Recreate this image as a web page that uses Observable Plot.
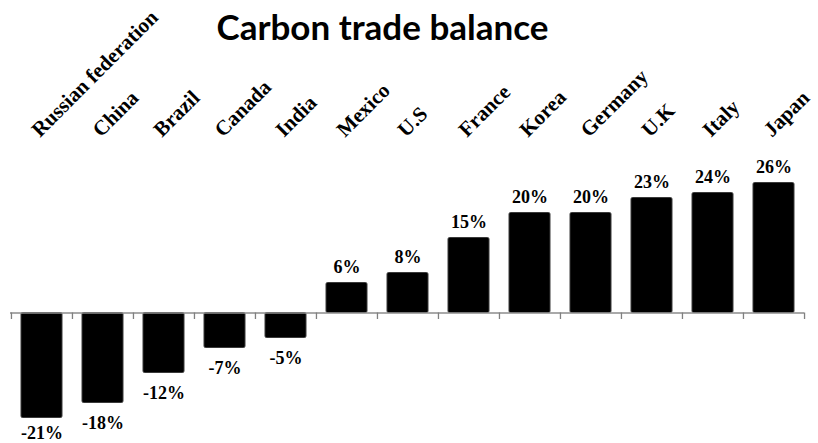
<!DOCTYPE html>
<html>
<head>
<meta charset="utf-8">
<script src="https://cdn.jsdelivr.net/npm/d3@7"></script>
<script src="https://cdn.jsdelivr.net/npm/@observablehq/plot@0.6"></script>
<style>
  html, body { margin: 0; padding: 0; background: #fff; }
  #wrap { position: relative; width: 818px; height: 443px; }
  #title { position: absolute; top: 5px; left: 0; width: 765px; text-align: center;
           font-family: Lato, "Open Sans", sans-serif; font-weight: 700; font-size: 35px; color: #000; }
  svg { overflow: visible; }
</style>
</head>
<body>
<div id="wrap">
  <div id="chart"></div>
  <div id="title">Carbon trade balance</div>
</div>
<script>
const countries = ["Russian federation", "China", "Brazil", "Canada", "India", "Mexico", "U.S", "France", "Korea", "Germany", "U.K", "Italy", "Japan"];
const balance = [-21, -18, -12, -7, -5, 6, 8, 15, 20, 20, 23, 24, 26];
const valueLabels = ["-21%", "-18%", "-12%", "-7%", "-5%", "6%", "8%", "15%", "20%", "20%", "23%", "24%", "26%"];

const data = countries.map((c, i) => ({country: c, value: balance[i], label: valueLabels[i]}));

const W = 818, H = 443, mL = 10, mR = 14;
const step = (W - mL - mR) / countries.length;
const serif = "Times New Roman, Liberation Serif, serif";
const minValue = d3.min(balance);

// small tick marks on the band boundaries: one before each category, plus one after the last
const tickData = countries.map(c => ({country: c, side: -1, lo: 0, hi: -1.3}))
  .concat([{country: countries[countries.length - 1], side: 1, lo: 0, hi: -1.3}]);

const labelStyle = {x: "country", y: "value", text: "label", lineAnchor: "middle",
  fontSize: 18, fontWeight: "bold", fill: "#000", fontFamily: serif};

const plot = Plot.plot({
  width: W,
  height: H,
  marginLeft: mL,
  marginRight: mR,
  marginTop: 137.5,
  marginBottom: 5.5,
  style: {fontFamily: serif, background: "white", overflow: "visible"},
  x: {type: "band", domain: countries, paddingInner: 0.33, paddingOuter: 0.165, axis: null},
  y: {domain: [-25, 35], axis: null},
  marks: [
    Plot.barY(data, {x: "country", y: "value", fill: "#000", stroke: "#3a3a3a", strokeWidth: 1, rx: 1.5}),
    Plot.ruleY([0], {stroke: "#8c8c8c", strokeWidth: 1.6}),
    Plot.ruleX(tickData.filter(d => d.side < 0), {x: "country", y1: "lo", y2: "hi", dx: -step / 2, stroke: "#808080", strokeWidth: 1.3}),
    Plot.ruleX(tickData.filter(d => d.side > 0), {x: "country", y1: "lo", y2: "hi", dx: step / 2, stroke: "#808080", strokeWidth: 1.3}),
    Plot.text(data.filter(d => d.value >= 0), {...labelStyle, dy: -16}),
    Plot.text(data.filter(d => d.value < 0 && d.value > minValue), {...labelStyle, dy: 20}),
    Plot.text(data.filter(d => d.value === minValue), {...labelStyle, dy: 15}),
    Plot.text(data, {x: "country", text: "country", frameAnchor: "top", rotate: -45, textAnchor: "start", lineAnchor: "bottom",
      dx: -2, dy: 0, fontSize: 21, fontWeight: "bold", fill: "#000", fontFamily: serif})
  ]
});
document.getElementById("chart").appendChild(plot);
</script>
</body>
</html>
